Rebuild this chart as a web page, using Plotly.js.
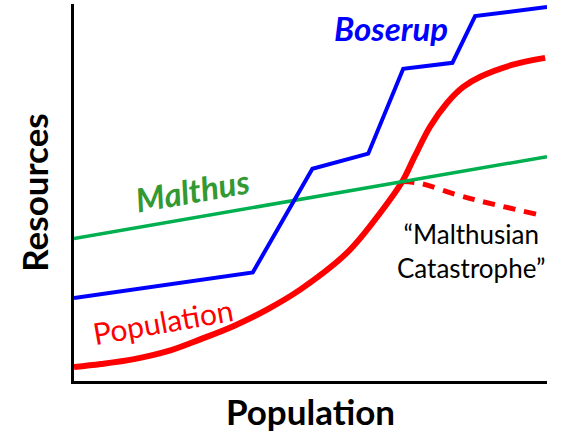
<!DOCTYPE html>
<html>
<head>
<meta charset="utf-8">
<script src="https://cdn.plot.ly/plotly-3.0.1.min.js"></script>
<style>html,body{margin:0;padding:0;background:#fff;}#chart{width:564px;height:438px;}</style>
</head>
<body>
<div id="chart"></div>
<script>
// Values (x: population 0-100, y: resources 0-100)
const boserupX = [0, 37.8, 50.4, 62.2, 69.6, 80.0, 84.8, 100];
const boserupY = [22.0, 28.8, 56.3, 60.3, 82.8, 84.4, 96.8, 99.2];

const malthusX = [0, 100];
const malthusY = [37.8, 59.5];

const populationX = [0, 5.7, 12.7, 19.8, 26.8, 33.8, 40.9, 47.9, 57.8, 64.8, 69.4, 72.0, 75.3, 78.9, 82.3, 85.9, 92.8, 99.6];
const populationY = [3.7, 4.5, 5.8, 7.9, 11.1, 14.6, 19.0, 24.3, 34.1, 44.7, 52.9, 59.5, 67.5, 73.8, 78.0, 80.7, 83.9, 85.7];

const catastropheX = [69.4, 73.2, 82.3, 97.9];
const catastropheY = [52.9, 52.4, 48.9, 44.2];

const labels = {
  boserup: 'Boserup',
  malthus: 'Malthus',
  population: 'Population',
  catastrophe: '\u201CMalthusian<br>Catastrophe\u201D',
  xTitle: 'Population',
  yTitle: 'Resources'
};

const FONT = 'Lato, "Open Sans", sans-serif';

const traces = [
  {x: catastropheX, y: catastropheY, mode: 'lines', line: {color: '#ff0000', width: 5, dash: '12px,9px', shape: 'spline'}, hoverinfo: 'skip'},
  {x: populationX, y: populationY, mode: 'lines', line: {color: '#ff0000', width: 6, shape: 'spline', smoothing: 1}, hoverinfo: 'skip'},
  {x: malthusX, y: malthusY, mode: 'lines', line: {color: '#00b050', width: 3.5}, hoverinfo: 'skip'},
  {x: boserupX, y: boserupY, mode: 'lines', line: {color: '#0000ff', width: 4}, hoverinfo: 'skip'}
];

const axisBase = {
  range: [0, 100], showgrid: false, zeroline: false, showticklabels: false, ticks: '',
  showline: true, linewidth: 3, linecolor: '#000', fixedrange: true
};

const layout = {
  width: 564, height: 438,
  margin: {l: 74, r: 17, t: 4, b: 57},
  paper_bgcolor: '#fff', plot_bgcolor: '#fff',
  showlegend: false,
  font: {family: FONT, color: '#000'},
  xaxis: Object.assign({}, axisBase, {title: {text: labels.xTitle, font: {family: FONT, size: 35, color: '#000', weight: 'bold'}, standoff: 18}}),
  yaxis: Object.assign({}, axisBase, {title: {text: labels.yTitle, font: {family: FONT, size: 35, color: '#000', weight: 'bold'}, standoff: 12}}),
  annotations: [
    {x: 67.0, y: 93.6, xref: 'x', yref: 'y', text: labels.boserup, showarrow: false,
     font: {family: FONT, size: 33, color: '#0000ff', weight: 'bold', style: 'italic'}},
    {x: 25.1, y: 50.6, xref: 'x', yref: 'y', text: labels.malthus, showarrow: false, textangle: -10,
     font: {family: FONT, size: 33, color: '#339933', weight: 'bold', style: 'italic'}},
    {x: 18.9, y: 15.9, xref: 'x', yref: 'y', text: labels.population, showarrow: false, textangle: -10,
     font: {family: FONT, size: 30, color: '#ff0000'}},
    {x: 84.0, y: 34.6, xref: 'x', yref: 'y', text: labels.catastrophe, showarrow: false, align: 'center',
     font: {family: FONT, size: 26, color: '#000'}}
  ]
};

Plotly.newPlot('chart', traces, layout, {staticPlot: true, displayModeBar: false});
</script>
</body>
</html>
